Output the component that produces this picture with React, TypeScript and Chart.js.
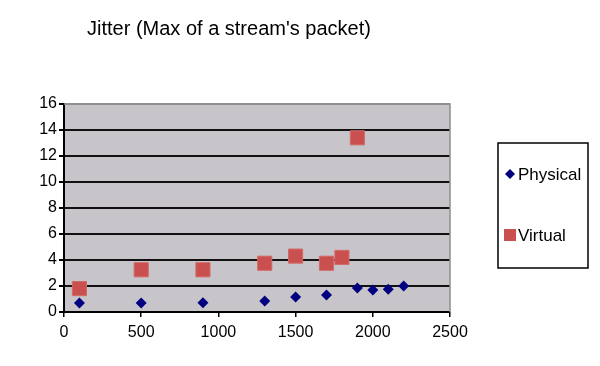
import React, { useEffect, useRef } from "react";
import { Chart, registerables } from "chart.js";

Chart.register(...registerables);

const TITLE = "Jitter (Max of a stream's packet)";
const physicalX = [100, 500, 900, 1300, 1500, 1700, 1900, 2000, 2100, 2200];
const physicalY = [0.7, 0.7, 0.72, 0.85, 1.15, 1.3, 1.85, 1.7, 1.75, 2.0];
const virtualX = [100, 500, 900, 1300, 1500, 1700, 1800, 1900];
const virtualY = [1.8, 3.25, 3.25, 3.75, 4.3, 3.75, 4.2, 13.4];
const X_MIN = 0, X_MAX = 2500, X_STEP = 500;
const Y_MIN = 0, Y_MAX = 16, Y_STEP = 2;

const FONT = "Arial, 'Liberation Sans', sans-serif";

const bgPlugin = {
  id: "bgPlugin",
  beforeDraw(chart: any) {
    const { ctx, chartArea: a } = chart;
    ctx.save();
    ctx.fillStyle = "#ffffff";
    ctx.fillRect(0, 0, chart.width, chart.height);
    ctx.fillStyle = "#c7c5c9";
    ctx.fillRect(a.left, a.top, a.right - a.left, a.bottom - a.top);
    ctx.restore();
  },
  afterDraw(chart: any) {
    const { ctx, chartArea: a } = chart;
    ctx.save();
    ctx.strokeStyle = "#8e8e8e";
    ctx.lineWidth = 1.5;
    ctx.beginPath();
    ctx.moveTo(a.left, a.top);
    ctx.lineTo(a.right, a.top);
    ctx.lineTo(a.right, a.bottom);
    ctx.stroke();
    ctx.fillStyle = "#000";
    ctx.font = `20px ${FONT}`;
    ctx.textBaseline = "alphabetic";
    ctx.textAlign = "left";
    ctx.fillText(TITLE, 87, 35);
    const lx = 498, ly = 143, lw = 90, lh = 125;
    ctx.strokeStyle = "#000";
    ctx.lineWidth = 1.5;
    ctx.strokeRect(lx, ly, lw, lh);
    const ds = chart.data.datasets;
    const rows = [174, 235];
    ds.forEach((d: any, i: number) => {
      const y = rows[i];
      ctx.fillStyle = d.backgroundColor;
      ctx.beginPath();
      if (d.pointStyle === "rectRot") {
        const r = 5;
        const cx = 510;
        ctx.moveTo(cx, y - r);
        ctx.lineTo(cx + r, y);
        ctx.lineTo(cx, y + r);
        ctx.lineTo(cx - r, y);
        ctx.closePath();
        ctx.fill();
      } else {
        ctx.fillRect(504, y - 6, 12, 12);
      }
      ctx.fillStyle = "#000";
      ctx.font = `17px ${FONT}`;
      ctx.textBaseline = "middle";
      ctx.fillText(d.label, 518, y + 1);
    });
    ctx.restore();
  },
};

export default function App() {
  const ref = useRef<HTMLCanvasElement>(null);
  useEffect(() => {
    document.body.style.margin = "0";
    const chart = new Chart(ref.current!, {
      type: "scatter",
      data: {
        datasets: [
          {
            label: "Physical",
            data: physicalX.map((x, i) => ({ x, y: physicalY[i] })),
            backgroundColor: "#000080",
            borderColor: "#000080",
            pointStyle: "rectRot",
            pointRadius: 5.5,
            borderWidth: 0,
          },
          {
            label: "Virtual",
            data: virtualX.map((x, i) => ({ x, y: virtualY[i] })),
            backgroundColor: "#c9504f",
            borderColor: "#d26a68",
            pointStyle: "rect",
            pointRadius: 10,
            borderWidth: 1,
          },
        ],
      },
      options: {
        animation: false,
        responsive: false,
        maintainAspectRatio: false,
        layout: { padding: { top: 104, right: 150, left: 0, bottom: 0 } },
        plugins: {
          legend: { display: false },
          title: { display: false },
          tooltip: { enabled: false },
        },
        scales: {
          x: {
            type: "linear",
            min: X_MIN,
            max: X_MAX,
            afterFit: (s: any) => { s.height = 54; },
            ticks: {
              stepSize: X_STEP,
              color: "#000",
              font: { family: FONT, size: 16 },
              padding: 6,
              maxRotation: 0,
              callback: (v: any) => String(v),
            },
            grid: {
              drawOnChartArea: false,
              drawTicks: true,
              tickLength: 5,
              color: "#000",
              lineWidth: 1.5,
            },
            border: { color: "#000", width: 2 },
          },
          y: {
            type: "linear",
            min: Y_MIN,
            max: Y_MAX,
            afterFit: (s: any) => { s.width = 64; },
            ticks: {
              stepSize: Y_STEP,
              color: "#000",
              font: { family: FONT, size: 16 },
              padding: 2,
              callback: (v: any) => String(v),
            },
            grid: {
              color: (c: any) => (c.tick && c.tick.value === Y_MAX ? "#8e8e8e" : "#111"),
              lineWidth: 2,
              tickLength: 5,
              tickColor: "#000",
            },
            border: { color: "#000", width: 2 },
          },
        },
      },
      plugins: [bgPlugin],
    });
    return () => chart.destroy();
  }, []);
  return (
    <div style={{ width: 600, height: 366 }}>
      <canvas ref={ref} width={600} height={366} style={{ display: "block" }} />
    </div>
  );
}
